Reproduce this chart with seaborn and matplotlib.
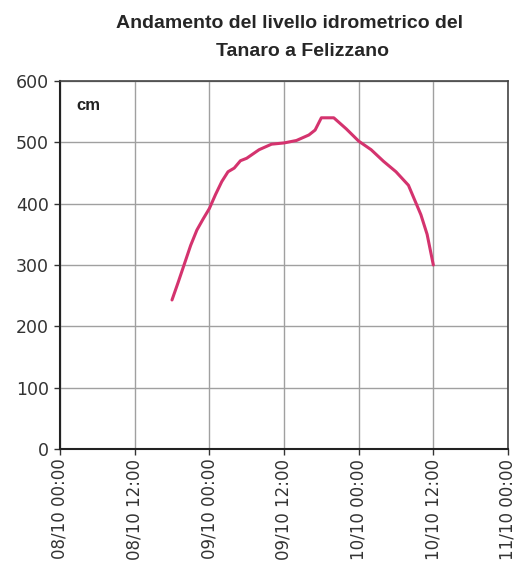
import numpy as np
import pandas as pd
import matplotlib
matplotlib.use("Agg")
import matplotlib.pyplot as plt
import matplotlib.dates as mdates
import seaborn as sns

# Hydrometric level of the Tanaro at Felizzano, October 2010 (cm)
times = [
    "2010-10-08 18:00", "2010-10-08 19:00", "2010-10-08 20:00", "2010-10-08 21:00",
    "2010-10-08 22:00", "2010-10-08 23:00", "2010-10-09 00:00", "2010-10-09 01:00",
    "2010-10-09 02:00", "2010-10-09 03:00", "2010-10-09 04:00", "2010-10-09 05:00",
    "2010-10-09 06:00", "2010-10-09 08:00", "2010-10-09 10:00", "2010-10-09 12:00",
    "2010-10-09 14:00", "2010-10-09 16:00", "2010-10-09 17:00", "2010-10-09 18:00",
    "2010-10-09 20:00", "2010-10-09 22:00", "2010-10-10 00:00", "2010-10-10 02:00",
    "2010-10-10 04:00", "2010-10-10 06:00", "2010-10-10 08:00", "2010-10-10 09:00",
    "2010-10-10 10:00", "2010-10-10 11:00", "2010-10-10 12:00",
]
level_cm = [
    243, 272, 302, 332, 357, 375, 392, 415,
    436, 452, 458, 470, 474, 488, 497, 499,
    503, 512, 520, 540, 540, 522, 502, 488,
    469, 452, 430, 406, 382, 350, 300,
]

x_ticks = ["2010-10-08 00:00", "2010-10-08 12:00", "2010-10-09 00:00", "2010-10-09 12:00",
           "2010-10-10 00:00", "2010-10-10 12:00", "2010-10-11 00:00"]
y_ticks = [0, 100, 200, 300, 400, 500, 600]

df = pd.DataFrame({"time": pd.to_datetime(times), "level": level_cm})

sns.set_theme(style="white")
plt.rcParams["font.family"] = ["DejaVu Sans"]

fig = plt.figure(figsize=(5.18, 5.71), dpi=100)
ax = fig.add_axes([60 / 518, 1 - 449 / 571, 448 / 518, 368 / 571])

sns.lineplot(data=df, x="time", y="level", ax=ax, color="#d4336e", linewidth=2.2)

xt = pd.to_datetime(x_ticks)
ax.set_xlim(xt[0], xt[-1])
ax.set_ylim(0, 600)
ax.set_xticks(xt)
ax.xaxis.set_major_formatter(mdates.DateFormatter("%d/%m %H:%M"))
ax.set_yticks(y_ticks)
ax.tick_params(axis="x", labelrotation=90, labelsize=12, length=4, width=1,
               color="#333333", direction="out", bottom=True, pad=3, labelcolor="#333333")
ax.tick_params(axis="y", labelsize=12.5, length=4, width=1, color="#333333",
               direction="out", left=True, pad=4, labelcolor="#333333")

ax.grid(True, color="#a0a0a0", linewidth=1.0)
for side in ["left", "bottom"]:
    ax.spines[side].set_color("#222222")
    ax.spines[side].set_linewidth(1.5)
for side in ["top", "right"]:
    ax.spines[side].set_color("#444444")
    ax.spines[side].set_linewidth(1.2)

ax.set_xlabel("")
ax.set_ylabel("")
ax.text(0.037, 0.955, "cm", transform=ax.transAxes, fontsize=12, family="Liberation Sans",
        fontweight="bold", color="#222222", va="top", ha="left")

fig.text(290 / 518, 1 - 23 / 571, "Andamento del livello idrometrico del",
         ha="center", va="center", fontsize=14, fontweight="bold", color="#262626",
         family="Liberation Sans")
fig.text(303 / 518, 1 - 52 / 571, "Tanaro a Felizzano",
         ha="center", va="center", fontsize=14, fontweight="bold", color="#262626",
         family="Liberation Sans")

fig.savefig("out.png", dpi=100)
